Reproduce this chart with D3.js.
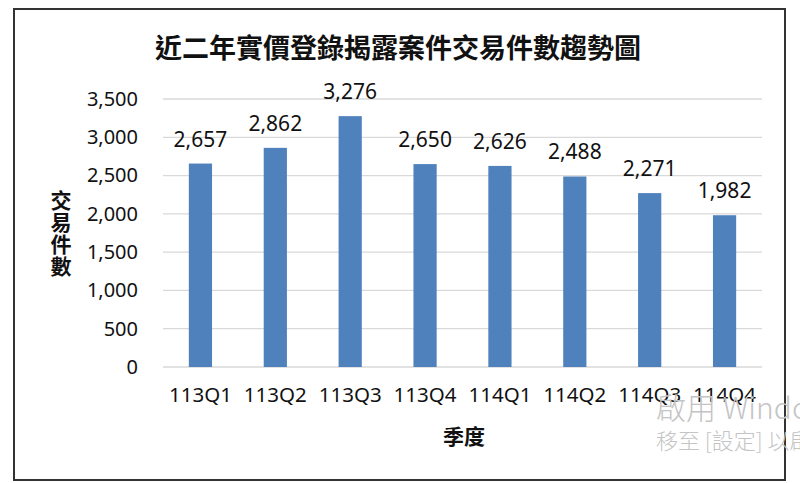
<!DOCTYPE html>
<html><head><meta charset="utf-8">
<script src="https://cdn.jsdelivr.net/npm/d3@7"></script>
<style>
html,body{margin:0;padding:0;background:#fff;overflow:hidden;}
svg{display:block;}
</style></head>
<body>
<svg id="chart" width="800" height="483"></svg>
<script>
const categories = ["113Q1","113Q2","113Q3","113Q4","114Q1","114Q2","114Q3","114Q4"];
const values = [2657, 2862, 3276, 2650, 2626, 2488, 2271, 1982];
const yTicks = [0, 500, 1000, 1500, 2000, 2500, 3000, 3500];
const title = "近二年實價登錄揭露案件交易件數趨勢圖";
const yTitle = "交易件數";
const xTitle = "季度";

const svg = d3.select("#chart");
const W = 800, H = 483;
const cjk = "'Noto Sans CJK TC','Noto Sans',sans-serif";
const num = "'Noto Sans','Open Sans',sans-serif";

svg.append("rect").attr("width",W).attr("height",H).attr("fill","#fff");
// frame
svg.append("rect").attr("x",14).attr("y",9).attr("width",771).attr("height",471)
  .attr("fill","none").attr("stroke","#333").attr("stroke-width",2);

const x = d3.scaleBand().domain(categories).range([163,762]).paddingInner(0.69).paddingOuter(0.345);
const y = d3.scaleLinear().domain([0,3500]).range([367,99]);

// gridlines
svg.append("g").selectAll("line").data(yTicks).join("line")
  .attr("x1",163).attr("x2",762).attr("y1",d=>y(d)).attr("y2",d=>y(d))
  .attr("stroke","#d9d9d9").attr("stroke-width",1.3);

// y axis
const yAxis = svg.append("g").attr("transform","translate(163,0)")
  .call(d3.axisLeft(y).tickValues(yTicks).tickSize(0).tickPadding(25).tickFormat(d3.format(",")));
yAxis.select(".domain").remove();
yAxis.selectAll("text").attr("font-family",num).attr("font-size",20).attr("fill","#111");

// x axis
const xAxis = svg.append("g").attr("transform","translate(0,367)")
  .call(d3.axisBottom(x).tickSize(0).tickPadding(20));
xAxis.select(".domain").remove();
xAxis.selectAll("text").attr("font-family",num).attr("font-size",20.5).attr("fill","#111");

// bars
svg.append("g").selectAll("rect").data(values).join("rect")
  .attr("x",(d,i)=>x(categories[i])).attr("width",x.bandwidth())
  .attr("y",d=>y(d)).attr("height",d=>y(0)-y(d))
  .attr("fill","#4f81bd");

// labels
svg.append("g").selectAll("text").data(values).join("text")
  .attr("x",(d,i)=>x(categories[i])+x.bandwidth()/2)
  .attr("y",d=>y(d)-17)
  .attr("text-anchor","middle")
  .attr("font-family",num).attr("font-size",21).attr("fill","#111")
  .text(d=>d3.format(",")(d));

// title
svg.append("text").attr("x",398).attr("y",58).attr("text-anchor","middle")
  .attr("font-family",cjk).attr("font-size",27).attr("font-weight",700).attr("fill","#111")
  .text(title);

// y title vertical (stacked characters)
svg.append("text").attr("x",61).attr("y",234)
  .attr("font-family",cjk).attr("font-size",21).attr("font-weight",700)
  .attr("fill","#111").attr("text-anchor","middle")
  .style("writing-mode","vertical-rl").style("text-orientation","upright")
  .style("letter-spacing","1px")
  .text(yTitle);

// x title
svg.append("text").attr("x",464).attr("y",444).attr("text-anchor","middle")
  .attr("font-family",cjk).attr("font-size",21).attr("font-weight",700).attr("fill","#111")
  .text(xTitle);

// watermark (clipped at the right edge, as in the reference)
svg.append("text").attr("x",656).attr("y",419)
  .attr("font-family","'Noto Sans CJK TC',sans-serif").attr("font-size",30).attr("font-weight",300)
  .attr("fill","#c4c4c4").text("啟用 Windows");
svg.append("text").attr("x",656).attr("y",449)
  .attr("font-family","'Noto Sans CJK TC',sans-serif").attr("font-size",22).attr("font-weight",300)
  .attr("fill","#c4c4c4").text("移至 [設定] 以啟用 Windows。");
</script>
</body></html>
